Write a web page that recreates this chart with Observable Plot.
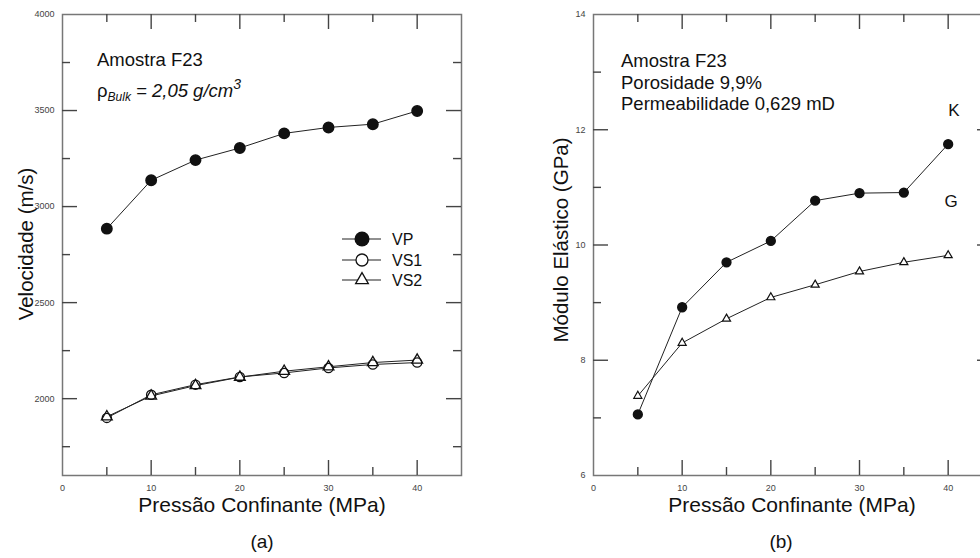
<!DOCTYPE html>
<html>
<head>
<meta charset="utf-8">
<script src="https://cdn.jsdelivr.net/npm/d3@7"></script>
<script src="https://cdn.jsdelivr.net/npm/@observablehq/plot@0.6"></script>
<style>
  html, body { margin: 0; padding: 0; background: #fff; }
  #wrap { position: relative; width: 980px; height: 558px; overflow: hidden; background: #fff; font-family: "Liberation Sans", Arial, sans-serif; }
  #left, #right { position: absolute; top: 0; width: 480px; height: 500px; }
  #left { left: 0; }
  #right { left: 531px; }
  #overlay { position: absolute; left: 0; top: 0; pointer-events: none; }
</style>
</head>
<body>
<div id="wrap">
  <div id="left"></div>
  <div id="right"></div>
  <svg id="overlay" width="980" height="558" font-family="Liberation Sans, Arial, sans-serif" fill="#111"></svg>
</div>
<script>
// ---------- data ----------
const pressure = [5, 10, 15, 20, 25, 30, 35, 40];
const vp  = [2885, 3137, 3242, 3305, 3381, 3412, 3429, 3498];
const vs1 = [1900, 2020, 2073, 2113, 2134, 2160, 2178, 2188];
const vs2 = [1906, 2014, 2068, 2112, 2143, 2166, 2188, 2201];
const kMod = [7.06, 8.92, 9.70, 10.07, 10.77, 10.90, 10.91, 11.75];
const gMod = [7.38, 8.30, 8.72, 9.09, 9.31, 9.54, 9.70, 9.82];

const xLabelTicks = [0, 10, 20, 30, 40];
const xMajorTicks = [10, 20, 30, 40];
const xMinorTicks = [5, 15, 25, 35];
const vLabelTicks = [2000, 2500, 3000, 3500, 4000];
const vMajorTicks = [2000, 2500, 3000, 3500];
const vMinorTicks = [1750, 2250, 2750, 3250, 3750];
const mLabelTicks = [6, 8, 10, 12, 14];
const mMajorTicks = [8, 10, 12];
const mMinorTicks = [7, 9, 11, 13];

const xTitle = "Pressão Confinante (MPa)";
const vTitle = "Velocidade (m/s)";
const mTitle = "Módulo Elástico (GPa)";
const legendNames = ["VP", "VS1", "VS2"];

const rows = (ys) => pressure.map((p, i) => ({p, v: ys[i]}));

const W = 480, H = 500, ML = 62, MR = 19, MT = 14, MB = 25;
const FW = W - ML - MR, FH = H - MT - MB;
const tickColor = "#444";
function frameAxes(xMaj, xMin, xLab, yMaj, yMin, yLab) {
  const tk = {stroke: tickColor, strokeWidth: 1.4};
  const txt = {tickSize: 0, fontSize: 9, fill: "#444", label: null, tickFormat: "d"};
  return [
    Plot.frame({stroke: "#777", strokeWidth: 1.5}),
    // bottom & top ticks (inward)
    Plot.tickX(xMaj, {x: d => d, insetTop: FH - 15, ...tk}),
    Plot.tickX(xMin, {x: d => d, insetTop: FH - 8, ...tk}),
    Plot.tickX(xMaj, {x: d => d, insetBottom: FH - 15, ...tk}),
    Plot.tickX(xMin, {x: d => d, insetBottom: FH - 8, ...tk}),
    // left & right ticks (inward)
    Plot.tickY(yMaj, {y: d => d, insetRight: FW - 15, ...tk}),
    Plot.tickY(yMin, {y: d => d, insetRight: FW - 8, ...tk}),
    Plot.tickY(yMaj, {y: d => d, insetLeft: FW - 15, ...tk}),
    Plot.tickY(yMin, {y: d => d, insetLeft: FW - 8, ...tk}),
    Plot.axisX({anchor: "bottom", ticks: xLab, tickPadding: 9, ...txt}),
    Plot.axisY({anchor: "left", ticks: yLab, tickPadding: 8, ...txt})
  ];
}

const base = {
  width: W, height: H,
  marginLeft: ML, marginRight: MR, marginTop: MT, marginBottom: MB,
  style: {fontFamily: "Liberation Sans, Arial, sans-serif", background: "transparent", maxWidth: "none"},
  x: {domain: [0, 45]}
};

// ---------- left chart ----------
const left = Plot.plot({
  ...base,
  y: {domain: [1600, 4000]},
  marks: [
    ...frameAxes(xMajorTicks, xMinorTicks, xLabelTicks, vMajorTicks, vMinorTicks, vLabelTicks),
    Plot.line(rows(vp), {x: "p", y: "v", stroke: "#222", strokeWidth: 1}),
    Plot.line(rows(vs1), {x: "p", y: "v", stroke: "#222", strokeWidth: 1}),
    Plot.line(rows(vs2), {x: "p", y: "v", stroke: "#222", strokeWidth: 1}),
    Plot.dot(rows(vp), {x: "p", y: "v", r: 5.2, fill: "#111", stroke: "#111"}),
    Plot.dot(rows(vs1), {x: "p", y: "v", r: 4.6, fill: "white", stroke: "#111", strokeWidth: 1.3}),
    Plot.dot(rows(vs2), {x: "p", y: "v", r: 4, symbol: "triangle", fill: "none", stroke: "#111", strokeWidth: 1.3})
  ]
});
document.getElementById("left").appendChild(left);

// ---------- right chart ----------
const right = Plot.plot({
  ...base,
  y: {domain: [6, 14]},
  marks: [
    ...frameAxes(xMajorTicks, xMinorTicks, xLabelTicks, mMajorTicks, mMinorTicks, mLabelTicks),
    Plot.line(rows(kMod), {x: "p", y: "v", stroke: "#222", strokeWidth: 1}),
    Plot.line(rows(gMod), {x: "p", y: "v", stroke: "#222", strokeWidth: 1}),
    Plot.dot(rows(kMod), {x: "p", y: "v", r: 4.4, fill: "#111", stroke: "#111"}),
    Plot.dot(rows(gMod), {x: "p", y: "v", r: 3, symbol: "triangle", fill: "white", stroke: "#111", strokeWidth: 1.2})
  ]
});
document.getElementById("right").appendChild(right);

// ---------- text overlay ----------
const ov = d3.select("#overlay");
function t(x, y, s, opts = {}) {
  const el = ov.append("text").attr("x", x).attr("y", y).text(s)
    .attr("font-size", opts.size || 18)
    .attr("text-anchor", opts.anchor || "start");
  if (opts.rotate) el.attr("transform", `rotate(-90 ${x} ${y})`);
  return el;
}
// axis titles
t(262, 512, xTitle, {size: 21, anchor: "middle"});
t(792, 512, xTitle, {size: 21, anchor: "middle"});
t(262, 548, "(a)", {size: 19, anchor: "middle"});
t(781, 548, "(b)", {size: 19, anchor: "middle"});
t(33, 244, vTitle, {size: 20.5, anchor: "middle", rotate: true});
t(568, 240, mTitle, {size: 20.5, anchor: "middle", rotate: true});

// annotations left
t(97, 66, "Amostra F23", {size: 18.5});
const rho = ov.append("text").attr("x", 97).attr("y", 97).attr("font-size", 18.5);
rho.append("tspan").text("ρ");
rho.append("tspan").attr("font-size", 12).attr("font-style", "italic").attr("dy", 4).text("Bulk");
rho.append("tspan").attr("font-style", "italic").attr("dy", -4).text(" = 2,05 g/cm");
rho.append("tspan").attr("font-style", "italic").attr("font-size", 14).attr("dy", -8).text("3");

// annotations right
t(621, 67, "Amostra F23", {size: 18.5});
t(621, 89, "Porosidade 9,9%", {size: 18.5});
t(621, 110, "Permeabilidade 0,629 mD", {size: 18.5});
t(954, 116, "K", {size: 17, anchor: "middle"});
t(951, 207, "G", {size: 17, anchor: "middle"});

// legend
const legY = [239, 260, 280];
legY.forEach((y, i) => {
  ov.append("line").attr("x1", 342).attr("x2", 381).attr("y1", y).attr("y2", y)
    .attr("stroke", "#222").attr("stroke-width", 1.2);
  t(392, y + 6, legendNames[i], {size: 16});
});
ov.append("circle").attr("cx", 362).attr("cy", legY[0]).attr("r", 7.5).attr("fill", "#111");
ov.append("circle").attr("cx", 362).attr("cy", legY[1]).attr("r", 6).attr("fill", "white").attr("stroke", "#111").attr("stroke-width", 1.3);
ov.append("path").attr("d", d3.symbol(d3.symbolTriangle, 70)()).attr("transform", `translate(362,${legY[2]})`)
  .attr("fill", "white").attr("stroke", "#111").attr("stroke-width", 1.3);
</script>
</body>
</html>
